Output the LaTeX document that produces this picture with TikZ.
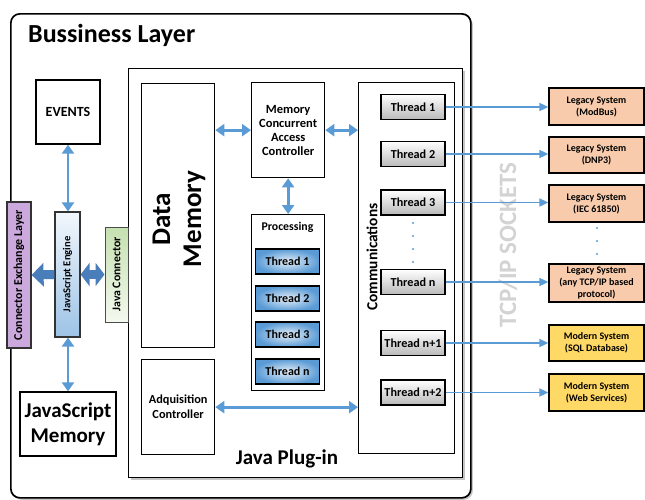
\documentclass[tikz,border=0pt]{standalone}
\usepackage{fontspec}
\setmainfont{Carlito}
\usetikzlibrary{arrows.meta,shadows}
\definecolor{arrowblue}{HTML}{5B9BD5}
\definecolor{blockblue}{HTML}{4A7EBB}
\definecolor{celpurple}{HTML}{CCA9DD}
\definecolor{legacy}{HTML}{F8CBAD}
\definecolor{modern}{HTML}{FFD966}
\definecolor{jsetop}{HTML}{F2F7FC}
\definecolor{jsebot}{HTML}{9DC3E6}
\definecolor{jctop}{HTML}{C5E0B0}
\definecolor{jcbot}{HTML}{F4F9EF}
\definecolor{tcpgray}{HTML}{D3D3D3}
\begin{document}
\begin{tikzpicture}[x=1pt,y=-1pt,font=\bfseries,
  box/.style={draw=black,line width=1.3pt,fill=white,inner sep=1pt,align=center},
  fs/.style={font=\bfseries\fontsize{#1pt}{1.2\dimexpr #1pt\relax}\selectfont},
  pthread/.style={draw=black,line width=1.3pt,minimum width=64,minimum height=25,inner sep=0pt,
     inner color=white!85!arrowblue,outer color=arrowblue,fs=12},
  cthread/.style={draw=black,line width=1.3pt,minimum width=64,minimum height=25,inner sep=0pt,
     top color=white,bottom color=gray!55,fs=12.2},
  sysbox/.style={draw=black,line width=1.3pt,minimum width=95,inner sep=0pt,align=center,
     font=\bfseries\fontsize{10pt}{12pt}\selectfont},
  barrow/.style={draw=arrowblue,line width=2.8pt,{Triangle[length=9pt,width=12pt]}-{Triangle[length=9pt,width=12pt]}},
  sarrow/.style={draw=arrowblue,line width=1.8pt,-{Triangle[length=9pt,width=8pt]}},
  blockarrow/.style={draw=blockblue,line width=9pt},
  shad/.style={drop shadow={shadow xshift=2pt,shadow yshift=-2pt,opacity=0.45}}
]
\useasboundingbox (0,0) rectangle (645,499);

% Business layer
\node[draw=black,line width=1.7pt,rounded corners=9pt,fill=white,minimum width=460,minimum height=484,
  anchor=north west,inner sep=0pt,shad] (bl) at (10,13) {};
\node[anchor=west,fs=26,inner sep=0pt] (title) at (28,35) {Bussiness Layer};

% Java plug-in
\node[draw=black,line width=1.3pt,fill=white,minimum width=334,minimum height=409,anchor=north west,
  inner sep=0pt,shad] (jp) at (128,68) {};
\node[fs=21] (jplabel) at (287,459) {Java Plug-in};

% Data memory
\node[box,minimum width=73,minimum height=264,anchor=north west] (dm) at (141,83) {};
\node[font=\bfseries\fontsize{27pt}{31pt}\selectfont,rotate=90,align=center] (dmtext) at (179,219) {Data\\Memory};

% MCAC
\node[box,minimum width=73,minimum height=95,anchor=north west,
  font=\bfseries\fontsize{12.5pt}{14pt}\selectfont] (mcac) at (251,82)
  {Memory\\Concurrent\\Access\\Controller};

% Processing
\node[box,minimum width=73,minimum height=176,anchor=north west] (proc) at (251,214) {};
\node[fs=11.8] (proclabel) at (287.5,227) {Processing};
\node[pthread] (p1) at (287.5,261.5) {Thread 1};
\node[pthread] (p2) at (287.5,298.5) {Thread 2};
\node[pthread] (p3) at (287.5,334.5) {Thread 3};
\node[pthread] (p4) at (287.5,371.5) {Thread n};

% Adquisition
\node[box,minimum width=73,minimum height=95,anchor=north west,
  font=\bfseries\fontsize{12.3pt}{15pt}\selectfont] (adq) at (141,359)
  {Adquisition\\Controller};

% Communications
\node[box,minimum width=96,minimum height=371,anchor=north west] (comm) at (358,82) {};
\node[fs=15.4,rotate=90] (commlabel) at (372,257) {Communications};
\node[cthread] (c1) at (413,107) {Thread 1};
\node[cthread] (c2) at (413,154) {Thread 2};
\node[cthread] (c3) at (413,202.5) {Thread 3};
\node[cthread] (c4) at (413,282) {Thread n};
\node[cthread] (c5) at (413,343) {Thread n+1};
\node[cthread] (c6) at (413,392.5) {Thread n+2};
\foreach \yy in {223,236,249,262} \fill[arrowblue] (413,\yy) circle (1.1);

% TCP/IP sockets
\node[rotate=90,text=tcpgray,fs=25] (tcp) at (508,245) {TCP/IP SOCKETS};

% Right systems
\node[sysbox,fill=legacy,minimum height=37] (s1) at (596.5,106.5) {Legacy System\\(ModBus)};
\node[sysbox,fill=legacy,minimum height=36] (s2) at (596.5,155) {Legacy System\\(DNP3)};
\node[sysbox,fill=legacy,minimum height=37] (s3) at (596.5,203.5) {Legacy System\\(IEC 61850)};
\node[sysbox,fill=legacy,minimum height=38] (s4) at (596.5,283) {Legacy System\\(any TCP/IP based\\protocol)};
\node[sysbox,fill=modern,minimum height=36] (s5) at (596.5,343) {Modern System\\(SQL Database)};
\node[sysbox,fill=modern,minimum height=37] (s6) at (596.5,392.5) {Modern System\\(Web Services)};
\foreach \yy in {228,241,254} \fill[arrowblue] (597,\yy) circle (1.1);

% Left side
\node[box,minimum width=64,minimum height=64,fs=14] (events) at (68,112) {EVENTS};
\node[draw=black!80,line width=1.2pt,fill=celpurple,minimum width=24,minimum height=146,inner sep=0pt] (cel) at (19,275) {};
\node[rotate=90,fs=12] (celtext) at (cel.center) {Connector Exchange Layer};
\node[draw=black!80,line width=1.2pt,top color=jsetop,bottom color=jsebot,minimum width=25,minimum height=125,inner sep=0pt] (jse) at (67.5,274.5) {};
\node[rotate=90,fs=10.6] (jsetext) at (jse.center) {JavaScript Engine};
\node[draw=black!70,line width=1pt,top color=jctop,bottom color=jcbot,minimum width=23,minimum height=95,inner sep=0pt] (jc) at (116.5,274.5) {};
\node[rotate=90,fs=11.8] (jctext) at (jc.center) {Java Connector};
\node[box,minimum width=96,minimum height=64,fs=21] (jsm) at (68,424) {JavaScript\\Memory};

% Arrows
\draw[barrow] (events.south) -- (events.south |- jse.north);
\draw[barrow] (jse.south -| events.south) -- (jsm.north);
\draw[barrow] (mcac.west -| dm.east) -- (mcac.west);
\draw[barrow] (mcac.east) -- (mcac.east -| comm.west);
\draw[barrow] (mcac.south) -- (proc.north);
\draw[barrow] (adq.east) -- (adq.east -| comm.west);
\foreach \c/\s in {c1/s1,c2/s2,c3/s3,c4/s4,c5/s5,c6/s6}
  \draw[sarrow] (\c.east) -- (\c.east -| \s.west);

% Block arrows
\draw[blockarrow,-{Triangle[length=12pt,width=23pt]}] (jse.west) -- (cel.east);
\draw[blockarrow,{Triangle[length=9pt,width=23pt]}-{Triangle[length=9pt,width=23pt]}] (jse.east) -- (jc.west);
\end{tikzpicture}
\end{document}
